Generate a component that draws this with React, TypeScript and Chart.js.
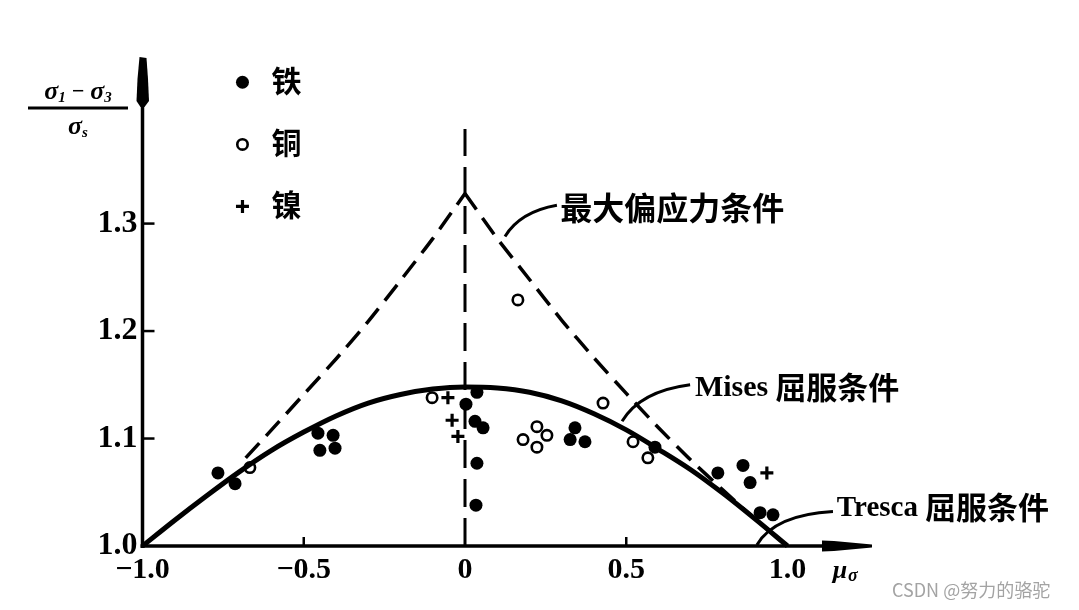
import React, { useEffect, useRef } from "react";
import { Chart, registerables } from "chart.js";

Chart.register(...registerables);

// ---------- axis ranges & tick labels ----------
const X_MIN = -1.0;
const X_MAX = 1.262;
const Y_MIN = 1.0;
const Y_MAX = 1.455;
const X_TICKS = [-1.0, -0.5, 0, 0.5, 1.0];
const Y_TICKS = [1.0, 1.1, 1.2, 1.3];

// ---------- Mises yield curve ----------
const MISES_MU = [-1.0, -0.9, -0.8, -0.7, -0.6, -0.5, -0.4, -0.3, -0.2, -0.1, 0, 0.1, 0.2, 0.3, 0.4, 0.5, 0.6, 0.7, 0.8, 0.9, 1.0];
const MISES_Y = [1.0, 1.024, 1.047, 1.069, 1.089, 1.106, 1.121, 1.133, 1.141, 1.146, 1.148, 1.147, 1.143, 1.135, 1.123, 1.108, 1.09, 1.071, 1.049, 1.025, 1.0];

// ---------- maximum deviatoric stress condition (dashed) ----------
const MAXDEV_LEFT_MU = [-0.68, -0.6, -0.5, -0.4, -0.3, -0.2, -0.1, 0];
const MAXDEV_LEFT_Y = [1.082, 1.108, 1.141, 1.174, 1.209, 1.247, 1.286, 1.328];
const MAXDEV_RIGHT_MU = [0, 0.1, 0.2, 0.3, 0.4, 0.5, 0.6, 0.7, 0.8, 0.9, 1.0];
const MAXDEV_RIGHT_Y = [1.328, 1.286, 1.248, 1.21, 1.175, 1.142, 1.11, 1.08, 1.052, 1.025, 1.0];

// ---------- vertical dashed line at mu = 0 ----------
const ZERO_MU = [0, 0];
const ZERO_Y = [1.0, 1.388];

// ---------- experimental points ----------
const IRON_MU = [-0.766, -0.713, -0.456, -0.409, -0.45, -0.403, 0.003, 0.037, 0.031, 0.056, 0.037, 0.034, 0.341, 0.326, 0.372, 0.589, 0.784, 0.862, 0.884, 0.915, 0.955];
const IRON_Y = [1.068, 1.058, 1.105, 1.103, 1.089, 1.091, 1.132, 1.143, 1.116, 1.11, 1.077, 1.038, 1.11, 1.099, 1.097, 1.092, 1.068, 1.075, 1.059, 1.031, 1.029];

const COPPER_MU = [-0.667, -0.102, 0.164, 0.18, 0.223, 0.254, 0.223, 0.428, 0.521, 0.567];
const COPPER_Y = [1.073, 1.138, 1.229, 1.099, 1.111, 1.103, 1.092, 1.133, 1.097, 1.082];

const NICKEL_MU = [-0.053, -0.04, -0.022, 0.936];
const NICKEL_Y = [1.138, 1.117, 1.102, 1.068];

// ---------- texts ----------
const LEGEND_LABELS = ["铁", "铜", "镍"];
const MAXDEV_LABEL = "最大偏应力条件";
const MISES_LABEL_LATIN = "Mises";
const TRESCA_LABEL_LATIN = "Tresca";
const YIELD_LABEL_CJK = "屈服条件";
const WATERMARK = "CSDN @努力的骆驼";

const zip = (xs: number[], ys: number[]) => xs.map((x, i) => ({ x, y: ys[i] }));

const SERIF = "'Liberation Serif', 'DejaVu Serif', serif";
const CJK = "'Noto Sans CJK SC', 'Noto Sans CJK TC', sans-serif";

function drawMarker(ctx: CanvasRenderingContext2D, kind: string, x: number, y: number) {
  ctx.save();
  ctx.fillStyle = "#000";
  ctx.strokeStyle = "#000";
  if (kind === "iron") {
    ctx.beginPath();
    ctx.arc(x, y, 6.5, 0, Math.PI * 2);
    ctx.fill();
  } else if (kind === "copper") {
    ctx.lineWidth = 2.6;
    ctx.fillStyle = "#fff";
    ctx.beginPath();
    ctx.arc(x, y, 5.2, 0, Math.PI * 2);
    ctx.fill();
    ctx.stroke();
  } else {
    ctx.lineWidth = 3.2;
    ctx.beginPath();
    ctx.moveTo(x - 6.5, y);
    ctx.lineTo(x + 6.5, y);
    ctx.moveTo(x, y - 6.5);
    ctx.lineTo(x, y + 6.5);
    ctx.stroke();
  }
  ctx.restore();
}

const overlayPlugin = {
  id: "overlay",
  beforeDatasetsDraw(chart: any) {
    const { ctx, chartArea, scales } = chart;
    const xs = scales.x;
    const ys = scales.y;
    const x0 = xs.getPixelForValue(X_MIN);
    const y0 = ys.getPixelForValue(Y_MIN);
    const top = chartArea.top;
    const right = chartArea.right;
    ctx.save();
    ctx.strokeStyle = "#000";
    ctx.fillStyle = "#000";
    // y axis
    ctx.lineWidth = 3.5;
    ctx.beginPath();
    ctx.moveTo(x0, y0 + 2);
    ctx.lineTo(x0, top + 20);
    ctx.stroke();
    // y arrow head (thick blob as in the scan)
    ctx.beginPath();
    ctx.moveTo(x0 - 3, top);
    ctx.lineTo(x0 + 4, top + 1);
    ctx.lineTo(x0 + 5.5, top + 22);
    ctx.lineTo(x0 + 6.5, top + 44);
    ctx.lineTo(x0 + 2, top + 50);
    ctx.lineTo(x0 - 2, top + 50);
    ctx.lineTo(x0 - 6, top + 44);
    ctx.lineTo(x0 - 5, top + 22);
    ctx.closePath();
    ctx.fill();
    // x axis
    ctx.beginPath();
    ctx.moveTo(x0 - 2, y0);
    ctx.lineTo(right - 10, y0);
    ctx.stroke();
    ctx.beginPath();
    ctx.moveTo(right - 50, y0 - 5.5);
    ctx.lineTo(right - 38, y0 - 5);
    ctx.lineTo(right, y0 - 1.5);
    ctx.lineTo(right, y0 + 1.5);
    ctx.lineTo(right - 38, y0 + 5);
    ctx.lineTo(right - 50, y0 + 5.5);
    ctx.closePath();
    ctx.fill();
    // y tick marks
    ctx.lineWidth = 2.5;
    Y_TICKS.forEach((v) => {
      if (v === Y_MIN) return;
      const py = ys.getPixelForValue(v);
      ctx.beginPath();
      ctx.moveTo(x0, py);
      ctx.lineTo(x0 + 12, py);
      ctx.stroke();
    });
    // x tick marks
    X_TICKS.forEach((v) => {
      if (v === X_MIN || v === 0 || v === 1.0) return;
      const px = xs.getPixelForValue(v);
      ctx.beginPath();
      ctx.moveTo(px, y0);
      ctx.lineTo(px, y0 - 9);
      ctx.stroke();
    });
    ctx.restore();
  },
  afterDraw(chart: any) {
    const { ctx, scales } = chart;
    const xs = scales.x;
    const ys = scales.y;
    const P = (mx: number, my: number) => [xs.getPixelForValue(mx), ys.getPixelForValue(my)];
    ctx.save();
    ctx.fillStyle = "#000";
    ctx.strokeStyle = "#000";
    ctx.textBaseline = "middle";
    ctx.textAlign = "left";

    // legend
    const kinds = ["iron", "copper", "nickel"];
    const legendY = [1.4315, 1.3737, 1.316];
    kinds.forEach((k, i) => {
      const [mx, my] = P(-0.69, legendY[i]);
      drawMarker(ctx, k, mx, my);
      const [tx, ty] = P(-0.6, legendY[i] + 0.002);
      ctx.font = `bold 30px ${CJK}`;
      ctx.fillText(LEGEND_LABELS[i], tx, ty);
    });

    // leader lines
    ctx.lineWidth = 3;
    const leader = (a: number[], c: number[], b: number[]) => {
      const [ax, ay] = P(a[0], a[1]);
      const [cx, cy] = P(c[0], c[1]);
      const [bx, by] = P(b[0], b[1]);
      ctx.beginPath();
      ctx.moveTo(ax, ay);
      ctx.quadraticCurveTo(cx, cy, bx, by);
      ctx.stroke();
    };
    leader([0.124, 1.288], [0.171, 1.311], [0.285, 1.317]);
    leader([0.487, 1.116], [0.543, 1.144], [0.698, 1.15]);
    leader([0.905, 1.001], [0.961, 1.029], [1.141, 1.032]);

    // annotation texts
    let [tx, ty] = P(0.295, 1.315);
    ctx.font = `bold 32px ${CJK}`;
    ctx.fillText(MAXDEV_LABEL, tx, ty);

    [tx, ty] = P(0.713, 1.148);
    ctx.font = `bold 30px ${SERIF}`;
    ctx.fillText(MISES_LABEL_LATIN, tx, ty + 1);
    let w = ctx.measureText(MISES_LABEL_LATIN).width;
    ctx.font = `bold 31px ${CJK}`;
    ctx.fillText(YIELD_LABEL_CJK, tx + w + 7, ty);

    [tx, ty] = P(1.153, 1.036);
    ctx.font = `bold 29px ${SERIF}`;
    ctx.fillText(TRESCA_LABEL_LATIN, tx, ty + 1);
    w = ctx.measureText(TRESCA_LABEL_LATIN).width;
    ctx.font = `bold 31px ${CJK}`;
    ctx.fillText(YIELD_LABEL_CJK, tx + w + 7, ty);

    // x-axis name  mu_sigma
    const [mxp] = P(1.14, 1.0);
    const y0 = ys.getPixelForValue(Y_MIN);
    ctx.font = `bold italic 26px ${SERIF}`;
    ctx.fillText("μ", mxp, y0 + 25);
    const mw = ctx.measureText("μ").width;
    ctx.font = `bold italic 18px ${SERIF}`;
    ctx.fillText("σ", mxp + mw + 1, y0 + 30);

    // y-axis name: fraction (sigma1 - sigma3) / sigma_s
    const sym = (parts: [string, number, number][], sx: number, sy: number) => {
      let x = sx;
      parts.forEach(([t, size, dy]) => {
        ctx.font = `bold italic ${size}px ${SERIF}`;
        ctx.fillText(t, x, sy + dy);
        x += ctx.measureText(t).width;
      });
      return x - sx;
    };
    const num: [string, number, number][] = [["σ", 26, 0], ["1", 15, 6], [" − ", 22, 0], ["σ", 26, 0], ["3", 15, 6]];
    const den: [string, number, number][] = [["σ", 26, 0], ["s", 15, 6]];
    const measure = (parts: [string, number, number][]) => {
      let total = 0;
      parts.forEach(([t, size]) => {
        ctx.font = `bold italic ${size}px ${SERIF}`;
        total += ctx.measureText(t).width;
      });
      return total;
    };
    const fracCx = 78;
    const nw = measure(num);
    sym(num, fracCx - nw / 2, 92);
    ctx.lineWidth = 3;
    ctx.beginPath();
    ctx.moveTo(28, 108);
    ctx.lineTo(128, 108);
    ctx.stroke();
    const dw = measure(den);
    sym(den, fracCx - dw / 2, 127);

    // watermark
    ctx.fillStyle = "#a3a3a3";
    ctx.font = `18px ${CJK}`;
    ctx.fillText(WATERMARK, 892, 590);
    ctx.restore();
  },
};

export default function App() {
  const canvasRef = useRef<HTMLCanvasElement | null>(null);

  useEffect(() => {
    document.body.style.margin = "0";
    const canvas = canvasRef.current;
    if (!canvas) return;
    const chart = new Chart(canvas, {
      type: "scatter",
      data: {
        datasets: [
          {
            label: "Mises",
            type: "line",
            data: zip(MISES_MU, MISES_Y),
            borderColor: "#000",
            borderWidth: 5,
            pointRadius: 0,
            cubicInterpolationMode: "monotone",
            fill: false,
            clip: false,
          } as any,
          {
            label: "maxdev-left",
            type: "line",
            data: zip(MAXDEV_LEFT_MU, MAXDEV_LEFT_Y),
            borderColor: "#000",
            borderWidth: 3.5,
            borderDash: [20, 10],
            pointRadius: 0,
            tension: 0.2,
            fill: false,
            clip: false,
          } as any,
          {
            label: "maxdev-right",
            type: "line",
            data: zip(MAXDEV_RIGHT_MU, MAXDEV_RIGHT_Y),
            borderColor: "#000",
            borderWidth: 3.5,
            borderDash: [20, 10],
            pointRadius: 0,
            tension: 0.2,
            fill: false,
            clip: false,
          } as any,
          {
            label: "zero",
            type: "line",
            data: zip(ZERO_MU, ZERO_Y),
            borderColor: "#000",
            borderWidth: 3,
            borderDash: [28, 11],
            pointRadius: 0,
            fill: false,
            clip: false,
          } as any,
          {
            label: LEGEND_LABELS[0],
            data: zip(IRON_MU, IRON_Y),
            pointStyle: "circle",
            pointRadius: 6.5,
            backgroundColor: "#000",
            borderWidth: 0,
            clip: false,
          } as any,
          {
            label: LEGEND_LABELS[1],
            data: zip(COPPER_MU, COPPER_Y),
            pointStyle: "circle",
            pointRadius: 5.2,
            backgroundColor: "#fff",
            borderColor: "#000",
            borderWidth: 2.6,
            clip: false,
          } as any,
          {
            label: LEGEND_LABELS[2],
            data: zip(NICKEL_MU, NICKEL_Y),
            pointStyle: "cross",
            pointRadius: 6.5,
            borderColor: "#000",
            borderWidth: 3.2,
            clip: false,
          } as any,
        ],
      },
      options: {
        responsive: false,
        animation: false,
        layout: { padding: { left: 0, top: 57, right: 207, bottom: 0 } },
        plugins: { legend: { display: false }, tooltip: { enabled: false } },
        scales: {
          x: {
            type: "linear",
            min: X_MIN,
            max: X_MAX,
            border: { display: false },
            grid: { display: false, drawTicks: false },
            afterBuildTicks: (s: any) => {
              s.ticks = X_TICKS.map((v) => ({ value: v }));
            },
            afterFit: (s: any) => {
              s.height = 64;
            },
            ticks: {
              padding: 6,
              color: "#000",
              font: { family: SERIF, size: 30, weight: "bold" },
              callback: (v: any) => {
                const n = Number(v);
                if (n === 0) return "0";
                return (n < 0 ? "−" : "") + Math.abs(n).toFixed(1);
              },
            },
          },
          y: {
            type: "linear",
            min: Y_MIN,
            max: Y_MAX,
            border: { display: false },
            grid: { display: false, drawTicks: false },
            afterBuildTicks: (s: any) => {
              s.ticks = Y_TICKS.map((v) => ({ value: v }));
            },
            afterFit: (s: any) => {
              s.width = 142.5;
            },
            ticks: {
              padding: 5,
              color: "#000",
              font: { family: SERIF, size: 32, weight: "bold" },
              callback: (v: any) => Number(v).toFixed(1),
            },
          },
        },
      },
      plugins: [overlayPlugin],
    });
    return () => chart.destroy();
  }, []);

  return (
    <div style={{ position: "absolute", left: 0, top: 0, width: 1079, height: 610, background: "#fff" }}>
      <canvas ref={canvasRef} width={1079} height={610} style={{ display: "block", width: 1079, height: 610 }} />
    </div>
  );
}
